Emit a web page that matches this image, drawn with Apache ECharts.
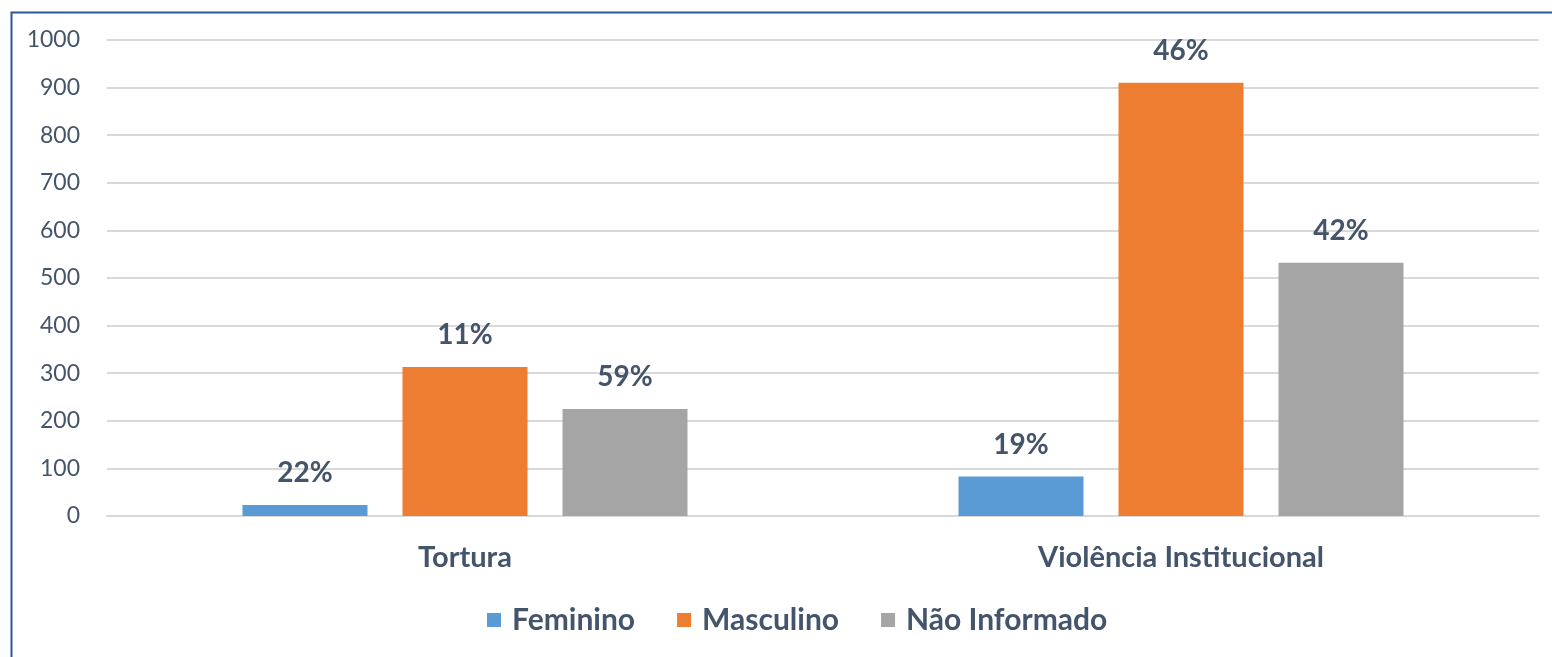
<!DOCTYPE html>
<html>
<head>
<meta charset="utf-8">
<script src="https://cdn.jsdelivr.net/npm/echarts@6/dist/echarts.min.js"></script>
<style>html,body{margin:0;padding:0;background:#fff;}#c{width:1552px;height:657px;}</style>
</head>
<body>
<div id="c"></div>
<script>
const categories = ['Tortura', 'Violência Institucional'];
const seriesNames = ['Feminino', 'Masculino', 'Não Informado'];
const feminino = [23, 83];
const masculino = [313, 910];
const naoInformado = [225, 532];
const feminoLabels = ['22%', '19%'];
const masculinoLabels = ['11%', '46%'];
const naoLabels = ['59%', '42%'];
const colors = ['#5b9bd5', '#ed7d31', '#a5a5a5'];

const FONT = 'Lato';
const TXT = '#44546a';

function mk(name, data, labels, color) {
  return {
    name: name, type: 'bar', data: data, barWidth: 125, barGap: '28%',
    itemStyle: { color: color },
    label: {
      show: true, position: 'top', distance: 18,
      fontFamily: FONT, fontWeight: 'bold', fontSize: 28, color: TXT,
      formatter: p => labels[p.dataIndex]
    }
  };
}

const chart = echarts.init(document.getElementById('c'));
chart.setOption({
  animation: false,
  color: colors,
  graphic: [{
    type: 'rect', left: 9, top: 10, shape: { x: 0, y: 0, width: 1600, height: 700 },
    style: { fill: 'none', stroke: '#2f5597', lineWidth: 2 }, z: 0
  }],
  grid: { left: 107, right: 13, top: 40, bottom: 141 },
  legend: {
    bottom: 17, left: 482, itemWidth: 14, itemHeight: 14, itemGap: 42,
    icon: 'rect',
    textStyle: { fontFamily: FONT, fontWeight: 'bold', fontSize: 30, color: TXT, padding: [0, 0, 0, 6] },
    data: seriesNames
  },
  xAxis: {
    type: 'category', data: categories,
    axisLine: { lineStyle: { color: '#d9d9d9', width: 2 } },
    axisTick: { show: false },
    axisLabel: { fontFamily: FONT, fontWeight: 'bold', fontSize: 29, color: TXT, margin: 27 }
  },
  yAxis: {
    type: 'value', min: 0, max: 1000, interval: 100,
    axisLine: { show: false }, axisTick: { show: false },
    splitLine: { lineStyle: { color: '#d9d9d9', width: 2 } },
    axisLabel: { fontFamily: FONT, fontSize: 23, color: TXT, margin: 27, formatter: v => String(v) }
  },
  series: [
    mk(seriesNames[0], feminino, feminoLabels, colors[0]),
    mk(seriesNames[1], masculino, masculinoLabels, colors[1]),
    mk(seriesNames[2], naoInformado, naoLabels, colors[2])
  ]
});
</script>
</body>
</html>
